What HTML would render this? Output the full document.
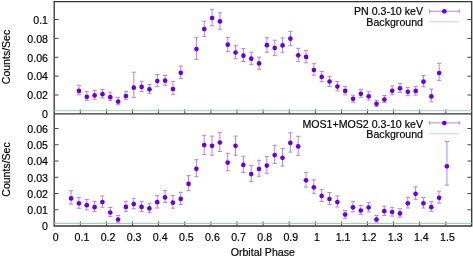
<!DOCTYPE html><html><head><meta charset="utf-8"><style>html,body{margin:0;padding:0;background:#fff;width:473px;height:257px;overflow:hidden}svg{display:block;will-change:transform}text{font-family:"Liberation Sans",sans-serif;font-size:10.5px;fill:#000;stroke:#000;stroke-width:0.18px}</style></head><body>
<svg width="473" height="257" viewBox="0 0 473 257">
<rect width="473" height="257" fill="#fff"/>
<g stroke="#333" stroke-width="1.3" fill="none">
<path d="M54.2 1.6H471.7V226H54.2ZM54.2 113.9H471.7"/>
</g>
<g stroke="#4a4a4a" stroke-width="1" fill="none">
<path d="M54.2 95.02h4.3M471.7 95.02h-4.3M54.2 76.14h4.3M471.7 76.14h-4.3M54.2 57.26h4.3M471.7 57.26h-4.3M54.2 38.38h4.3M471.7 38.38h-4.3M54.2 19.5h4.3M471.7 19.5h-4.3M54.2 209.75h4.3M471.7 209.75h-4.3M54.2 193.5h4.3M471.7 193.5h-4.3M54.2 177.25h4.3M471.7 177.25h-4.3M54.2 161h4.3M471.7 161h-4.3M54.2 144.75h4.3M471.7 144.75h-4.3M54.2 128.5h4.3M471.7 128.5h-4.3M80.31 113.9v-4.5M80.31 226v-4.5M106.42 113.9v-4.5M106.42 226v-4.5M132.53 113.9v-4.5M132.53 226v-4.5M158.64 113.9v-4.5M158.64 226v-4.5M184.75 113.9v-4.5M184.75 226v-4.5M210.86 113.9v-4.5M210.86 226v-4.5M236.97 113.9v-4.5M236.97 226v-4.5M263.08 113.9v-4.5M263.08 226v-4.5M289.19 113.9v-4.5M289.19 226v-4.5M315.3 113.9v-4.5M315.3 226v-4.5M341.41 113.9v-4.5M341.41 226v-4.5M367.52 113.9v-4.5M367.52 226v-4.5M393.63 113.9v-4.5M393.63 226v-4.5M419.74 113.9v-4.5M419.74 226v-4.5M445.85 113.9v-4.5M445.85 226v-4.5"/>
</g>
<g stroke="#94c9a6" stroke-width="1" fill="none">
<path stroke="#a4d1b3" d="M54.2 110.7H471.7"/>
<path d="M54.2 223.35H471.7"/>
<path stroke="#b2dabf" d="M429.6 21.8H459M429.6 133.8H459"/>
</g>
<text transform="translate(48 118.2) scale(1.012 1)" text-anchor="end">0</text><text transform="translate(48 99.32) scale(1.012 1)" text-anchor="end">0.02</text><text transform="translate(48 80.44) scale(1.012 1)" text-anchor="end">0.04</text><text transform="translate(48 61.56) scale(1.012 1)" text-anchor="end">0.06</text><text transform="translate(48 42.68) scale(1.012 1)" text-anchor="end">0.08</text><text transform="translate(48 23.8) scale(1.012 1)" text-anchor="end">0.1</text><text transform="translate(48 230.3) scale(1.012 1)" text-anchor="end">0</text><text transform="translate(48 214.05) scale(1.012 1)" text-anchor="end">0.01</text><text transform="translate(48 197.8) scale(1.012 1)" text-anchor="end">0.02</text><text transform="translate(48 181.55) scale(1.012 1)" text-anchor="end">0.03</text><text transform="translate(48 165.3) scale(1.012 1)" text-anchor="end">0.04</text><text transform="translate(48 149.05) scale(1.012 1)" text-anchor="end">0.05</text><text transform="translate(48 132.8) scale(1.012 1)" text-anchor="end">0.06</text><text transform="translate(55.8 240.5) scale(1.012 1)" text-anchor="middle">0</text><text transform="translate(81.91 240.5) scale(1.012 1)" text-anchor="middle">0.1</text><text transform="translate(108.02 240.5) scale(1.012 1)" text-anchor="middle">0.2</text><text transform="translate(134.13 240.5) scale(1.012 1)" text-anchor="middle">0.3</text><text transform="translate(160.24 240.5) scale(1.012 1)" text-anchor="middle">0.4</text><text transform="translate(186.35 240.5) scale(1.012 1)" text-anchor="middle">0.5</text><text transform="translate(212.46 240.5) scale(1.012 1)" text-anchor="middle">0.6</text><text transform="translate(238.57 240.5) scale(1.012 1)" text-anchor="middle">0.7</text><text transform="translate(264.68 240.5) scale(1.012 1)" text-anchor="middle">0.8</text><text transform="translate(290.79 240.5) scale(1.012 1)" text-anchor="middle">0.9</text><text transform="translate(316.9 240.5) scale(1.012 1)" text-anchor="middle">1</text><text transform="translate(343.01 240.5) scale(1.012 1)" text-anchor="middle">1.1</text><text transform="translate(369.12 240.5) scale(1.012 1)" text-anchor="middle">1.2</text><text transform="translate(395.23 240.5) scale(1.012 1)" text-anchor="middle">1.3</text><text transform="translate(421.34 240.5) scale(1.012 1)" text-anchor="middle">1.4</text><text transform="translate(447.45 240.5) scale(1.012 1)" text-anchor="middle">1.5</text><text transform="translate(262.8 255.7) scale(1.012 1)" text-anchor="middle">Orbital Phase</text><text transform="translate(423 15.2) scale(1.012 1)" text-anchor="end">PN 0.3-10 keV</text><text transform="translate(423 26.2) scale(1.012 1)" text-anchor="end">Background</text><text transform="translate(423 127.8) scale(1.012 1)" text-anchor="end">MOS1+MOS2 0.3-10 keV</text><text transform="translate(423 138.4) scale(1.012 1)" text-anchor="end">Background</text><text transform="translate(10.3 57) rotate(-90)" text-anchor="middle">Counts/Sec</text><text transform="translate(10.3 169.5) rotate(-90)" text-anchor="middle">Counts/Sec</text>
<g stroke="#b184ec" stroke-width="1" fill="none">
<path d="M79 85.4V94.8M76.9 85.4H81.1M76.9 94.8H81.1"/>
<path d="M86.83 91.6V100.5M84.73 91.6H88.93M84.73 100.5H88.93"/>
<path d="M94.66 90.4V99.2M92.56 90.4H96.76M92.56 99.2H96.76"/>
<path d="M102.49 89.4V98M100.39 89.4H104.59M100.39 98H104.59"/>
<path d="M110.32 92.2V100.5M108.22 92.2H112.42M108.22 100.5H112.42"/>
<path d="M118.15 97.3V104.8M116.05 97.3H120.25M116.05 104.8H120.25"/>
<path d="M125.98 91.5V99.4M123.88 91.5H128.08M123.88 99.4H128.08"/>
<path d="M133.81 72.2V97.7M131.71 72.2H135.91M131.71 97.7H135.91"/>
<path d="M141.64 81.3V91.6M139.54 81.3H143.74M139.54 91.6H143.74"/>
<path d="M149.47 84.5V93.3M147.37 84.5H151.57M147.37 93.3H151.57"/>
<path d="M157.3 74.5V86.7M155.2 74.5H159.4M155.2 86.7H159.4"/>
<path d="M165.13 75.5V85.3M163.03 75.5H167.23M163.03 85.3H167.23"/>
<path d="M172.96 81.4V94.4M170.86 81.4H175.06M170.86 94.4H175.06"/>
<path d="M180.79 66V78.4M178.69 66H182.89M178.69 78.4H182.89"/>
<path d="M196.45 37.4V59.3M194.35 37.4H198.55M194.35 59.3H198.55"/>
<path d="M204.28 21.2V36.4M202.18 21.2H206.38M202.18 36.4H206.38"/>
<path d="M212.11 9.3V25.8M210.01 9.3H214.21M210.01 25.8H214.21"/>
<path d="M219.94 12.9V29.2M217.84 12.9H222.04M217.84 29.2H222.04"/>
<path d="M227.77 37.4V51.6M225.67 37.4H229.87M225.67 51.6H229.87"/>
<path d="M235.6 45.6V58.7M233.5 45.6H237.7M233.5 58.7H237.7"/>
<path d="M243.43 48.6V61.5M241.33 48.6H245.53M241.33 61.5H245.53"/>
<path d="M251.26 52.2V64.7M249.16 52.2H253.36M249.16 64.7H253.36"/>
<path d="M259.09 57.1V69.2M256.99 57.1H261.19M256.99 69.2H261.19"/>
<path d="M266.92 37.7V52.2M264.82 37.7H269.02M264.82 52.2H269.02"/>
<path d="M274.75 40.2V55.6M272.65 40.2H276.85M272.65 55.6H276.85"/>
<path d="M282.58 37.9V52.2M280.48 37.9H284.68M280.48 52.2H284.68"/>
<path d="M290.41 31.3V45.6M288.31 31.3H292.51M288.31 45.6H292.51"/>
<path d="M298.24 48.3V61.4M296.14 48.3H300.34M296.14 61.4H300.34"/>
<path d="M306.07 50.4V62.8M303.97 50.4H308.17M303.97 62.8H308.17"/>
<path d="M313.9 63.7V75.3M311.8 63.7H316M311.8 75.3H316"/>
<path d="M321.73 71.5V81.6M319.63 71.5H323.83M319.63 81.6H323.83"/>
<path d="M329.56 76.4V86.5M327.46 76.4H331.66M327.46 86.5H331.66"/>
<path d="M337.39 81.5V90.9M335.29 81.5H339.49M335.29 90.9H339.49"/>
<path d="M345.22 86.4V94.8M343.12 86.4H347.32M343.12 94.8H347.32"/>
<path d="M353.05 95.2V102.2M350.95 95.2H355.15M350.95 102.2H355.15"/>
<path d="M360.88 89.3V97.3M358.78 89.3H362.98M358.78 97.3H362.98"/>
<path d="M368.71 91.8V100M366.61 91.8H370.81M366.61 100H370.81"/>
<path d="M376.54 100.4V106.6M374.44 100.4H378.64M374.44 106.6H378.64"/>
<path d="M384.37 95.5V102.5M382.27 95.5H386.47M382.27 102.5H386.47"/>
<path d="M392.2 85.9V94.8M390.1 85.9H394.3M390.1 94.8H394.3"/>
<path d="M400.03 83.4V92.5M397.93 83.4H402.13M397.93 92.5H402.13"/>
<path d="M407.86 87.3V95.7M405.76 87.3H409.96M405.76 95.7H409.96"/>
<path d="M415.69 86.4V95.1M413.59 86.4H417.79M413.59 95.1H417.79"/>
<path d="M423.52 75.5V86.9M421.42 75.5H425.62M421.42 86.9H425.62"/>
<path d="M431.35 89V101.8M429.25 89H433.45M429.25 101.8H433.45"/>
<path d="M439.18 63.3V80.4M437.08 63.3H441.28M437.08 80.4H441.28"/>
<path d="M71.1 190.8V204.1M69 190.8H73.2M69 204.1H73.2"/>
<path d="M78.93 197.3V208.3M76.83 197.3H81.03M76.83 208.3H81.03"/>
<path d="M86.76 199.5V209.9M84.66 199.5H88.86M84.66 209.9H88.86"/>
<path d="M94.59 201.3V211.6M92.49 201.3H96.69M92.49 211.6H96.69"/>
<path d="M102.42 196V207.2M100.32 196H104.52M100.32 207.2H104.52"/>
<path d="M110.25 207.5V216.4M108.15 207.5H112.35M108.15 216.4H112.35"/>
<path d="M118.08 215.5V222.3M115.98 215.5H120.18M115.98 222.3H120.18"/>
<path d="M125.91 201.3V211.4M123.81 201.3H128.01M123.81 211.4H128.01"/>
<path d="M133.74 198.3V208.8M131.64 198.3H135.84M131.64 208.8H135.84"/>
<path d="M141.57 201.3V211.4M139.47 201.3H143.67M139.47 211.4H143.67"/>
<path d="M149.4 203.3V212.6M147.3 203.3H151.5M147.3 212.6H151.5"/>
<path d="M157.23 195.4V208M155.13 195.4H159.33M155.13 208H159.33"/>
<path d="M165.06 190.6V202.5M162.96 190.6H167.16M162.96 202.5H167.16"/>
<path d="M172.89 195.4V208.2M170.79 195.4H174.99M170.79 208.2H174.99"/>
<path d="M180.72 192.3V204.4M178.62 192.3H182.82M178.62 204.4H182.82"/>
<path d="M188.55 175.6V190.7M186.45 175.6H190.65M186.45 190.7H190.65"/>
<path d="M196.38 159.7V176.7M194.28 159.7H198.48M194.28 176.7H198.48"/>
<path d="M204.21 135.3V154.6M202.11 135.3H206.31M202.11 154.6H206.31"/>
<path d="M212.04 136.1V155.2M209.94 136.1H214.14M209.94 155.2H214.14"/>
<path d="M219.87 132.4V151.5M217.77 132.4H221.97M217.77 151.5H221.97"/>
<path d="M227.7 153.4V170.8M225.6 153.4H229.8M225.6 170.8H229.8"/>
<path d="M235.53 136.1V155.2M233.43 136.1H237.63M233.43 155.2H237.63"/>
<path d="M243.36 156.2V172.4M241.26 156.2H245.46M241.26 172.4H245.46"/>
<path d="M251.19 165.6V181.4M249.09 165.6H253.29M249.09 181.4H253.29"/>
<path d="M259.02 160.3V176.2M256.92 160.3H261.12M256.92 176.2H261.12"/>
<path d="M266.85 156.6V173.3M264.75 156.6H268.95M264.75 173.3H268.95"/>
<path d="M274.68 145.4V163.5M272.58 145.4H276.78M272.58 163.5H276.78"/>
<path d="M282.51 148.6V166.1M280.41 148.6H284.61M280.41 166.1H284.61"/>
<path d="M290.34 132.8V152.1M288.24 132.8H292.44M288.24 152.1H292.44"/>
<path d="M298.17 136.3V155.4M296.07 136.3H300.27M296.07 155.4H300.27"/>
<path d="M306 172.3V187.1M303.9 172.3H308.1M303.9 187.1H308.1"/>
<path d="M313.83 179.9V193.3M311.73 179.9H315.93M311.73 193.3H315.93"/>
<path d="M321.66 189.4V201.5M319.56 189.4H323.76M319.56 201.5H323.76"/>
<path d="M329.49 192.5V204.4M327.39 192.5H331.59M327.39 204.4H331.59"/>
<path d="M337.32 195.9V207M335.22 195.9H339.42M335.22 207H339.42"/>
<path d="M345.15 210.5V218.3M343.05 210.5H347.25M343.05 218.3H347.25"/>
<path d="M352.98 201.4V211.9M350.88 201.4H355.08M350.88 211.9H355.08"/>
<path d="M360.81 205.4V214.3M358.71 205.4H362.91M358.71 214.3H362.91"/>
<path d="M368.64 202.3V211.9M366.54 202.3H370.74M366.54 211.9H370.74"/>
<path d="M376.47 215.5V222M374.37 215.5H378.57M374.37 222H378.57"/>
<path d="M384.3 206.2V215.5M382.2 206.2H386.4M382.2 215.5H386.4"/>
<path d="M392.13 207.3V216.1M390.03 207.3H394.23M390.03 216.1H394.23"/>
<path d="M399.96 208.8V217.1M397.86 208.8H402.06M397.86 217.1H402.06"/>
<path d="M407.79 197.3V208M405.69 197.3H409.89M405.69 208H409.89"/>
<path d="M415.62 186.8V199.3M413.52 186.8H417.72M413.52 199.3H417.72"/>
<path d="M423.45 197.5V208M421.35 197.5H425.55M421.35 208H425.55"/>
<path d="M431.28 201.5V211.4M429.18 201.5H433.38M429.18 211.4H433.38"/>
<path d="M439.11 191.2V203.1M437.01 191.2H441.21M437.01 203.1H441.21"/>
<path d="M446.94 141.5V185.1M444.84 141.5H449.04M444.84 185.1H449.04"/>
<path d="M429.6 11.25H459.3M429.6 9.3V13.3M459.3 9.3V13.3"/>
<path d="M429.6 122.9H459.3M429.6 120.9V124.9M459.3 120.9V124.9"/>
</g>
<g fill="#6c00d2">
<ellipse cx="79" cy="90.9" rx="2.35" ry="2.35"/>
<ellipse cx="86.83" cy="96.8" rx="2.35" ry="2.35"/>
<ellipse cx="94.66" cy="95.4" rx="2.35" ry="2.35"/>
<ellipse cx="102.49" cy="94.2" rx="2.35" ry="2.35"/>
<ellipse cx="110.32" cy="97.2" rx="2.35" ry="2.35"/>
<ellipse cx="118.15" cy="101.6" rx="2.35" ry="2.35"/>
<ellipse cx="125.98" cy="96" rx="2.35" ry="2.35"/>
<ellipse cx="133.81" cy="87.7" rx="2.35" ry="2.35"/>
<ellipse cx="141.64" cy="86.9" rx="2.35" ry="2.35"/>
<ellipse cx="149.47" cy="89.3" rx="2.35" ry="2.35"/>
<ellipse cx="157.3" cy="81" rx="2.35" ry="2.35"/>
<ellipse cx="165.13" cy="80.7" rx="2.35" ry="2.35"/>
<ellipse cx="172.96" cy="89" rx="2.35" ry="2.35"/>
<ellipse cx="180.79" cy="72.8" rx="2.35" ry="2.35"/>
<ellipse cx="196.45" cy="49.1" rx="2.35" ry="2.35"/>
<ellipse cx="204.28" cy="29.1" rx="2.35" ry="2.35"/>
<ellipse cx="212.11" cy="18" rx="2.35" ry="2.35"/>
<ellipse cx="219.94" cy="21.4" rx="2.35" ry="2.35"/>
<ellipse cx="227.77" cy="44.7" rx="2.35" ry="2.35"/>
<ellipse cx="235.6" cy="52.5" rx="2.35" ry="2.35"/>
<ellipse cx="243.43" cy="55.7" rx="2.35" ry="2.35"/>
<ellipse cx="251.26" cy="58.7" rx="2.35" ry="2.35"/>
<ellipse cx="259.09" cy="63.4" rx="2.35" ry="2.35"/>
<ellipse cx="266.92" cy="45.2" rx="2.35" ry="2.35"/>
<ellipse cx="274.75" cy="48" rx="2.35" ry="2.35"/>
<ellipse cx="282.58" cy="45.4" rx="2.35" ry="2.35"/>
<ellipse cx="290.41" cy="38.7" rx="2.35" ry="2.35"/>
<ellipse cx="298.24" cy="55.3" rx="2.35" ry="2.35"/>
<ellipse cx="306.07" cy="56.9" rx="2.35" ry="2.35"/>
<ellipse cx="313.9" cy="70" rx="2.35" ry="2.35"/>
<ellipse cx="321.73" cy="76.9" rx="2.35" ry="2.35"/>
<ellipse cx="329.56" cy="81.5" rx="2.35" ry="2.35"/>
<ellipse cx="337.39" cy="86.6" rx="2.35" ry="2.35"/>
<ellipse cx="345.22" cy="90.9" rx="2.35" ry="2.35"/>
<ellipse cx="353.05" cy="98.8" rx="2.35" ry="2.35"/>
<ellipse cx="360.88" cy="93.8" rx="2.35" ry="2.35"/>
<ellipse cx="368.71" cy="96.3" rx="2.35" ry="2.35"/>
<ellipse cx="376.54" cy="103.8" rx="2.35" ry="2.35"/>
<ellipse cx="384.37" cy="99.5" rx="2.35" ry="2.35"/>
<ellipse cx="392.2" cy="90.8" rx="2.35" ry="2.35"/>
<ellipse cx="400.03" cy="88.3" rx="2.35" ry="2.35"/>
<ellipse cx="407.86" cy="91.8" rx="2.35" ry="2.35"/>
<ellipse cx="415.69" cy="90.9" rx="2.35" ry="2.35"/>
<ellipse cx="423.52" cy="81.7" rx="2.35" ry="2.35"/>
<ellipse cx="431.35" cy="96.4" rx="2.35" ry="2.35"/>
<ellipse cx="439.18" cy="73" rx="2.35" ry="2.35"/>
<ellipse cx="71.1" cy="198.4" rx="2.35" ry="2.35"/>
<ellipse cx="78.93" cy="203.3" rx="2.35" ry="2.35"/>
<ellipse cx="86.76" cy="205.2" rx="2.35" ry="2.35"/>
<ellipse cx="94.59" cy="207.2" rx="2.35" ry="2.35"/>
<ellipse cx="102.42" cy="202.1" rx="2.35" ry="2.35"/>
<ellipse cx="110.25" cy="212.5" rx="2.35" ry="2.35"/>
<ellipse cx="118.08" cy="219.5" rx="2.35" ry="2.35"/>
<ellipse cx="125.91" cy="206.9" rx="2.35" ry="2.35"/>
<ellipse cx="133.74" cy="204.1" rx="2.35" ry="2.35"/>
<ellipse cx="141.57" cy="206.9" rx="2.35" ry="2.35"/>
<ellipse cx="149.4" cy="208.4" rx="2.35" ry="2.35"/>
<ellipse cx="157.23" cy="202.2" rx="2.35" ry="2.35"/>
<ellipse cx="165.06" cy="197.4" rx="2.35" ry="2.35"/>
<ellipse cx="172.89" cy="202.7" rx="2.35" ry="2.35"/>
<ellipse cx="180.72" cy="198.9" rx="2.35" ry="2.35"/>
<ellipse cx="188.55" cy="183.9" rx="2.35" ry="2.35"/>
<ellipse cx="196.38" cy="168.8" rx="2.35" ry="2.35"/>
<ellipse cx="204.21" cy="145.1" rx="2.35" ry="2.35"/>
<ellipse cx="212.04" cy="145.8" rx="2.35" ry="2.35"/>
<ellipse cx="219.87" cy="142.5" rx="2.35" ry="2.35"/>
<ellipse cx="227.7" cy="162.6" rx="2.35" ry="2.35"/>
<ellipse cx="235.53" cy="145.8" rx="2.35" ry="2.35"/>
<ellipse cx="243.36" cy="164.9" rx="2.35" ry="2.35"/>
<ellipse cx="251.19" cy="174.1" rx="2.35" ry="2.35"/>
<ellipse cx="259.02" cy="169" rx="2.35" ry="2.35"/>
<ellipse cx="266.85" cy="165.6" rx="2.35" ry="2.35"/>
<ellipse cx="274.68" cy="155.1" rx="2.35" ry="2.35"/>
<ellipse cx="282.51" cy="157.8" rx="2.35" ry="2.35"/>
<ellipse cx="290.34" cy="142.9" rx="2.35" ry="2.35"/>
<ellipse cx="298.17" cy="146.4" rx="2.35" ry="2.35"/>
<ellipse cx="306" cy="180.3" rx="2.35" ry="2.35"/>
<ellipse cx="313.83" cy="187.3" rx="2.35" ry="2.35"/>
<ellipse cx="321.66" cy="195.9" rx="2.35" ry="2.35"/>
<ellipse cx="329.49" cy="199" rx="2.35" ry="2.35"/>
<ellipse cx="337.32" cy="202.1" rx="2.35" ry="2.35"/>
<ellipse cx="345.15" cy="214.6" rx="2.35" ry="2.35"/>
<ellipse cx="352.98" cy="207.3" rx="2.35" ry="2.35"/>
<ellipse cx="360.81" cy="210.5" rx="2.35" ry="2.35"/>
<ellipse cx="368.64" cy="207.5" rx="2.35" ry="2.35"/>
<ellipse cx="376.47" cy="219.5" rx="2.35" ry="2.35"/>
<ellipse cx="384.3" cy="211.2" rx="2.35" ry="2.35"/>
<ellipse cx="392.13" cy="212" rx="2.35" ry="2.35"/>
<ellipse cx="399.96" cy="213.4" rx="2.35" ry="2.35"/>
<ellipse cx="407.79" cy="203.3" rx="2.35" ry="2.35"/>
<ellipse cx="415.62" cy="193.8" rx="2.35" ry="2.35"/>
<ellipse cx="423.45" cy="203.3" rx="2.35" ry="2.35"/>
<ellipse cx="431.28" cy="207.2" rx="2.35" ry="2.35"/>
<ellipse cx="439.11" cy="197.8" rx="2.35" ry="2.35"/>
<ellipse cx="446.94" cy="166.3" rx="2.35" ry="2.35"/>
<ellipse cx="444.3" cy="11.3" rx="2.35" ry="2.35"/>
<ellipse cx="444.3" cy="123" rx="2.35" ry="2.35"/>
</g>
</svg></body></html>
